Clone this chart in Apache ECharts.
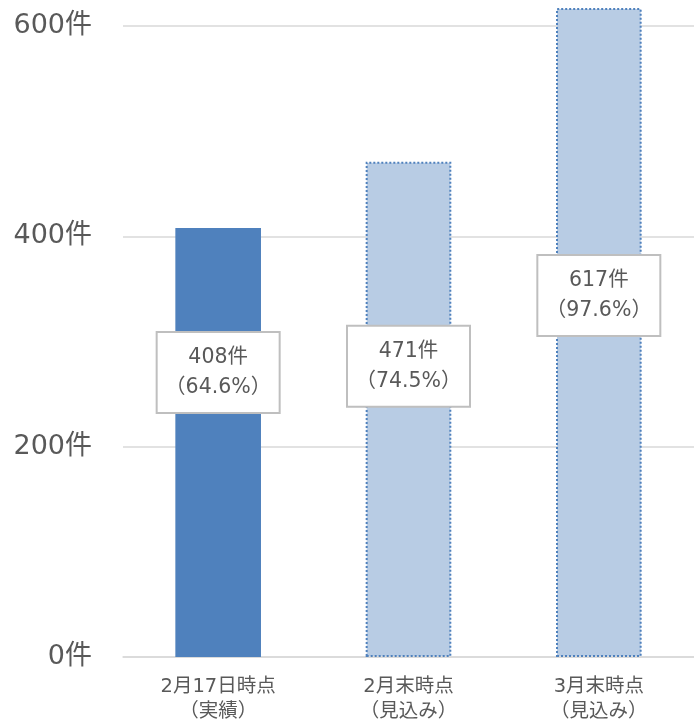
<!DOCTYPE html>
<html>
<head>
<meta charset="utf-8">
<script src="https://cdn.jsdelivr.net/npm/echarts@6/dist/echarts.min.js"></script>
<style>
  html, body { margin: 0; padding: 0; background: #fff; }
  #chart { width: 694px; height: 723px; }
</style>
</head>
<body>
<div id="chart"></div>
<script>
// Counts per reporting point and their share
const categories = ['2月17日時点\n（実績）', '2月末時点\n（見込み）', '3月末時点\n（見込み）'];
const counts = [408, 471, 617];
const shares = [64.6, 74.5, 97.6];
const yTicks = [0, 200, 400, 600];

const FONT = '"DejaVu Sans", "Noto Sans CJK JP", sans-serif';
const TEXT = '#595959';

// Where each value box sits relative to the middle of its bar (px)
const boxShift = [-70, -43, -37];

const data = counts.map((v, i) => {
  const isActual = i === 0;
  return {
    value: v,
    itemStyle: isActual
      ? { color: '#4f81bd' }
      : { color: '#b8cce4', borderColor: '#4f81bd', borderWidth: 2, borderType: [2, 2] },
    label: {
      show: true,
      position: 'inside',
      offset: [0, boxShift[i]],
      formatter: () => v + '件\n（' + shares[i].toFixed(1) + '%）'
    }
  };
});

const chart = echarts.init(document.getElementById('chart'), null, { renderer: 'canvas' });
chart.setOption({
  animation: false,
  textStyle: { fontFamily: FONT },
  grid: { left: 123, right: 0, top: 26, bottom: 66, containLabel: false, outerBoundsMode: 'none' },
  xAxis: {
    type: 'category',
    data: categories,
    axisLine: { show: true, lineStyle: { color: '#d9d9d9', width: 1.5 } },
    axisTick: { show: false },
    axisLabel: { color: TEXT, fontSize: 19.5, lineHeight: 25, margin: 17, fontFamily: FONT }
  },
  yAxis: {
    type: 'value',
    min: yTicks[0],
    max: yTicks[yTicks.length - 1],
    interval: 200,
    axisLine: { show: false },
    axisTick: { show: false },
    splitLine: { lineStyle: { color: '#d9d9d9', width: 1.5 } },
    axisLabel: { color: TEXT, fontSize: 27, margin: 31, fontFamily: FONT, formatter: v => v + '件' }
  },
  series: [{
    type: 'bar',
    data: data,
    barWidth: '45%',
    clip: false,
    label: {
      color: TEXT,
      fontSize: 20.5,
      lineHeight: 30,
      fontFamily: FONT,
      backgroundColor: '#fff',
      borderColor: '#bfbfbf',
      borderWidth: 2,
      width: 121,
      height: 79,
      align: 'center',
      verticalAlign: 'middle'
    }
  }]
});
</script>
</body>
</html>
